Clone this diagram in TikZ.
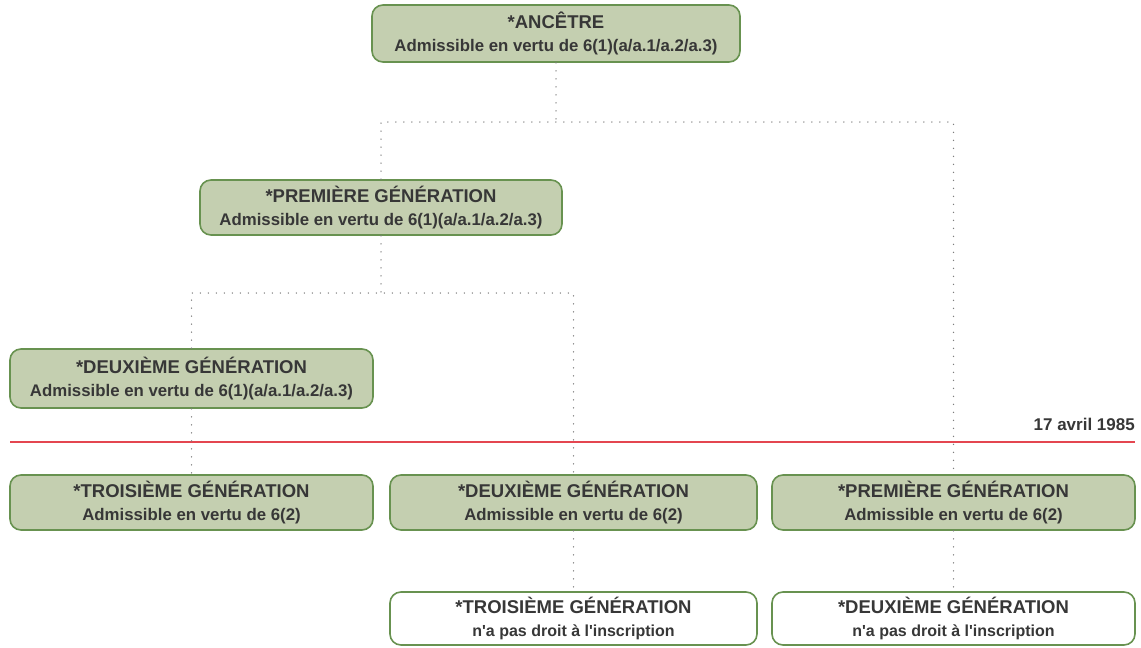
\documentclass[tikz,border=0pt]{standalone}
\usepackage{fontspec}
\setmainfont{Liberation Sans}
\definecolor{boxfill}{RGB}{196,207,176}
\definecolor{boxline}{RGB}{104,146,80}
\definecolor{txt}{RGB}{55,55,55}
\definecolor{dotc}{RGB}{125,125,125}
\definecolor{redl}{RGB}{228,70,80}
\begin{document}
\begin{tikzpicture}[x=1pt,y=-1pt,
  gbox/.style={draw=boxline, line width=1.6pt, fill=boxfill, rounded corners=11pt, align=center, text=txt, inner sep=0pt, font=\bfseries\fontsize{16.8}{23}\selectfont},
  wbox/.style={gbox, fill=white},
  dotl/.style={draw=dotc, line width=1.5pt, line cap=round, dash pattern=on 0pt off 8pt}]
\useasboundingbox (0,0) rectangle (1141,648);
\newcommand{\ttl}[1]{{\fontsize{18.5}{23}\selectfont #1}}
\newcommand{\subw}[1]{{\fontsize{16}{23}\selectfont #1}}
\node[gbox, minimum width=368pt, minimum height=57pt] (anc) at (556,33.5) {\ttl{*ANCÊTRE}\\Admissible en vertu de 6(1)(a/a.1/a.2/a.3)};
\node[gbox, minimum width=362pt, minimum height=55pt] (pg) at (381,207.5) {\ttl{*PREMIÈRE GÉNÉRATION}\\Admissible en vertu de 6(1)(a/a.1/a.2/a.3)};
\node[gbox, minimum width=363pt, minimum height=59pt] (dg) at (191.5,378.5) {\ttl{*DEUXIÈME GÉNÉRATION}\\Admissible en vertu de 6(1)(a/a.1/a.2/a.3)};
\node[gbox, minimum width=363pt, minimum height=55pt] (tg2) at (191.5,502.5) {\ttl{*TROISIÈME GÉNÉRATION}\\Admissible en vertu de 6(2)};
\node[gbox, minimum width=367pt, minimum height=55pt] (dg2) at (573.5,502.5) {\ttl{*DEUXIÈME GÉNÉRATION}\\Admissible en vertu de 6(2)};
\node[gbox, minimum width=363pt, minimum height=55pt] (pg2) at (953.5,502.5) {\ttl{*PREMIÈRE GÉNÉRATION}\\Admissible en vertu de 6(2)};
\node[wbox, minimum width=367pt, minimum height=53pt] (tgn) at (573.5,618.5) {\ttl{*TROISIÈME GÉNÉRATION}\\\subw{n\textquotesingle a pas droit à l\textquotesingle inscription}};
\node[wbox, minimum width=363pt, minimum height=53pt] (dgn) at (953.5,618.5) {\ttl{*DEUXIÈME GÉNÉRATION}\\\subw{n\textquotesingle a pas droit à l\textquotesingle inscription}};
% date line
\coordinate (rl) at (10,442);
\coordinate (rr) at (1135,442);
\draw[redl, line width=1.6pt] (rl) -- (rr);
\node[anchor=base east, inner sep=0pt, text=txt, font=\bfseries\fontsize{17}{20}\selectfont] (date) at (1135,430) {17 avril 1985};
% connectors
\coordinate (j1) at (556,122);
\draw[dotl] (anc.south) -- (j1);
\draw[dotl] (pg.north) -- (pg.north |- j1) -- (pg2.north |- j1) -- (pg2.north);
\coordinate (j2) at (381,293);
\draw[dotl] (pg.south) -- (j2);
\draw[dotl] (dg.north) -- (dg.north |- j2) -- (dg2.north |- j2) -- (dg2.north);
\draw[dotl] (dg.south) -- (tg2.north);
\draw[dotl] (dg2.south) -- (tgn.north);
\draw[dotl] (pg2.south) -- (dgn.north);
\end{tikzpicture}
\end{document}
